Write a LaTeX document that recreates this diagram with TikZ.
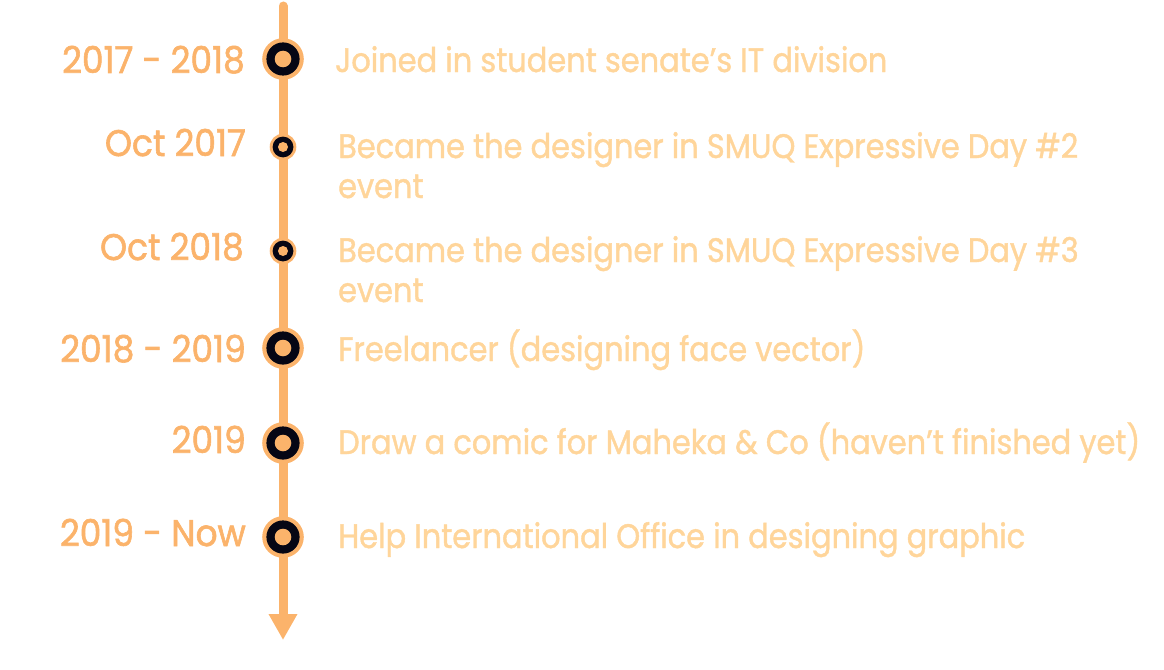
\documentclass[tikz,border=0pt]{standalone}
\usepackage{fontspec}
\usetikzlibrary{arrows.meta}
\newfontfamily\labfont[FakeStretch=0.93,FakeBold=1.6]{Poppins}
\newfontfamily\txtfont[FakeStretch=0.895,FakeBold=1.2]{Poppins}
\definecolor{orng}{HTML}{FBB36B}
\definecolor{lite}{HTML}{FFD59A}
\definecolor{ink}{HTML}{060614}
\tikzset{
  bigdot/.style={circle, fill=orng, inner sep=0pt, minimum size=41.6pt,
    path picture={\fill[ink] (path picture bounding box.center) circle (16.6pt);
                  \fill[orng] (path picture bounding box.center) circle (8.3pt);}},
  smalldot/.style={circle, fill=orng, inner sep=0pt, minimum size=26.6pt,
    path picture={\fill[ink] (path picture bounding box.center) circle (10.4pt);
                  \fill[orng] (path picture bounding box.center) circle (5pt);}},
  datelab/.style={anchor=base east, inner sep=0pt, text=orng, font=\labfont\fontsize{37}{40}\selectfont},
  desc/.style={anchor=base west, inner sep=0pt, text=lite, align=left, font=\txtfont\fontsize{34}{40}\selectfont},
}
\begin{document}
\begin{tikzpicture}[x=1pt,y=-1pt]
\useasboundingbox (0,0) rectangle (1164,669);
\coordinate (top) at (283,6);
\coordinate (tip) at (283,640);
\draw[orng, line width=9pt, line cap=round, -{Triangle[width=27pt,length=26pt,line cap=butt]}] (top) -- (tip);
\node[bigdot] (d1) at (283,59) {};
\node[smalldot] (d2) at (283,147) {};
\node[smalldot] (d3) at (283,251) {};
\node[bigdot] (d4) at (283,348) {};
\node[bigdot] (d5) at (283,443) {};
\node[bigdot] (d6) at (283,537) {};
\node[datelab] (l1) at (245,73) {2017 - 2018};
\node[datelab] (l2) at (246,156) {Oct 2017};
\node[datelab] (l3) at (244,260) {Oct 2018};
\node[datelab] (l4) at (246,362) {2018 - 2019};
\node[datelab] (l5) at (246,453) {2019};
\node[datelab] (l6) at (246,546) {2019 - Now};
\node[desc] (t1) at (335,72) {Joined in student senate’s IT division};
\node[desc] (t2) at (338,198) {Became the designer in SMUQ Expressive Day \#2\\event};
\node[desc] (t3) at (338,302) {Became the designer in SMUQ Expressive Day \#3\\event};
\node[desc] (t4) at (338,361) {Freelancer (designing face vector)};
\node[desc] (t5) at (338,454) {Draw a comic for Maheka \& Co (haven’t finished yet)};
\node[desc] (t6) at (338,548) {Help International Office in designing graphic};
\end{tikzpicture}
\end{document}
